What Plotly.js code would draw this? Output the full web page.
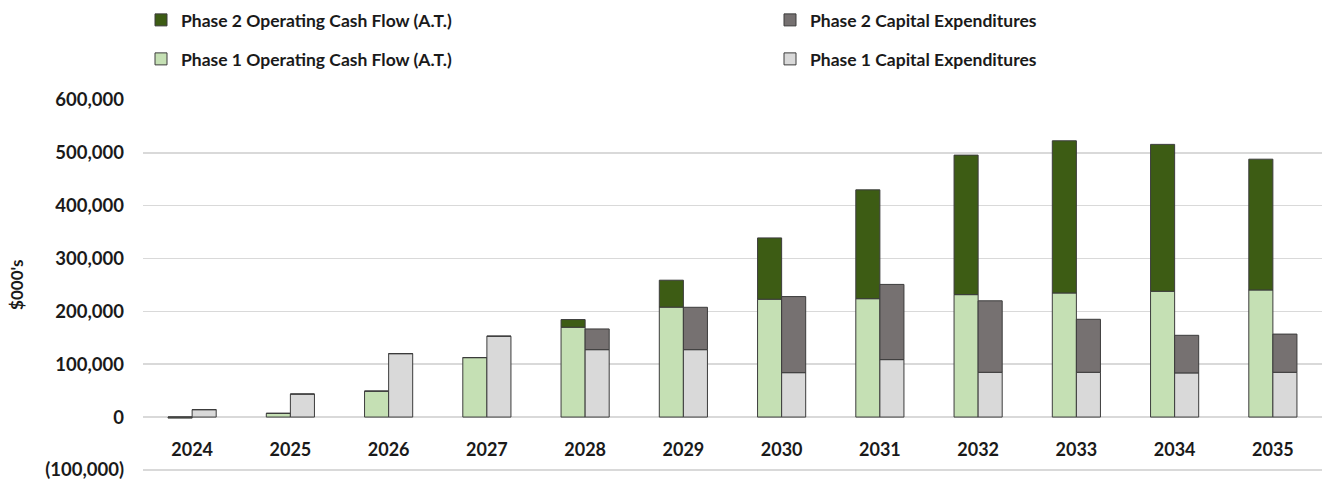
<!DOCTYPE html>
<html>
<head>
<meta charset="utf-8">
<script src="https://cdn.plot.ly/plotly-3.0.1.min.js"></script>
<style>html,body{margin:0;padding:0;background:#fff;}#chart{width:1322px;height:479px;}</style>
</head>
<body>
<div id="chart"></div>
<script>
const years = ['2024','2025','2026','2027','2028','2029','2030','2031','2032','2033','2034','2035'];
const phase1OCF   = [-2000, 7000, 49000, 112500, 170000, 208000, 223000, 224000, 231700, 234800, 238000, 240500];
const phase2OCF   = [0, 0, 0, 0, 14500, 51000, 116000, 206000, 264000, 288000, 278000, 247500];
const phase1CapEx = [14000, 43500, 120000, 153000, 127500, 127500, 84000, 108700, 84700, 84700, 83500, 84700];
const phase2CapEx = [0, 0, 0, 0, 39200, 80200, 144000, 142300, 135300, 100300, 71200, 72300];
const yTickVals = [-100000, 0, 100000, 200000, 300000, 400000, 500000, 600000];
const yTickText = ['(100,000)', '0', '100,000', '200,000', '300,000', '400,000', '500,000', '600,000'];
const yTitle = "$000's";

const FONT = 'Lato, "Open Sans", "DejaVu Sans", sans-serif';
const edge = {color: '#3c3c3c', width: 1};

const traces = [
  {type: 'bar', name: 'Phase 1 Operating Cash Flow (A.T.)', x: years, y: phase1OCF,
   offsetgroup: 'ocf', marker: {color: '#c5e0b4', line: edge}, legend: 'legend2'},
  {type: 'bar', name: 'Phase 2 Operating Cash Flow (A.T.)', x: years, y: phase2OCF, base: phase1OCF.map(v => Math.max(v, 0)),
   offsetgroup: 'ocf', marker: {color: '#3d5c14', line: edge}, legend: 'legend'},
  {type: 'bar', name: 'Phase 1 Capital Expenditures', x: years, y: phase1CapEx,
   offsetgroup: 'capex', marker: {color: '#d9d9d9', line: edge}, legend: 'legend4'},
  {type: 'bar', name: 'Phase 2 Capital Expenditures', x: years, y: phase2CapEx, base: phase1CapEx,
   offsetgroup: 'capex', marker: {color: '#767171', line: edge}, legend: 'legend3'}
];

function leg(px, py) {
  return {x: px / 1322, y: 1 - py / 479, xref: 'container', yref: 'container',
          xanchor: 'left', yanchor: 'middle', orientation: 'v', itemwidth: 30,
          bgcolor: 'rgba(0,0,0,0)',
          font: {family: FONT, size: 17.5, color: '#1a1a1a', weight: 'bold'}};
}

const yMin = -104000, yMax = 600000;

const layout = {
  width: 1322, height: 479,
  margin: {l: 143, r: 0, t: 100, b: 7, autoexpand: false},
  paper_bgcolor: '#ffffff', plot_bgcolor: '#ffffff',
  barmode: 'group', bargap: 0.51, bargroupgap: 0,
  showlegend: true,
  legend: leg(141, 20),
  legend2: leg(141, 59),
  legend3: leg(770, 20),
  legend4: leg(770, 59),
  xaxis: {type: 'category', anchor: 'free', position: (0 - yMin) / (yMax - yMin), automargin: false,
          showgrid: false, showline: false, zeroline: false, ticks: '',
          ticklabelstandoff: 20,
          tickfont: {family: FONT, size: 18, color: '#1a1a1a', weight: 'bold'}},
  yaxis: {range: [yMin, yMax], domain: [0, 1], tickvals: yTickVals, ticktext: yTickText, automargin: false,
          showgrid: true, gridcolor: '#d9d9d9', gridwidth: 1.5,
          zeroline: true, zerolinecolor: '#d9d9d9', zerolinewidth: 1.5,
          showline: false, ticks: '', ticklabelstandoff: 18, ticklabeloverflow: 'allow',
          tickfont: {family: FONT, size: 18.5, color: '#1a1a1a', weight: 'bold'}},
  annotations: [{text: yTitle, xref: 'paper', yref: 'paper', x: -126 / 1179, y: (100000 - yMin + 150000) / (yMax - yMin),
                 xanchor: 'center', yanchor: 'middle', textangle: -90, showarrow: false,
                 font: {family: FONT, size: 17, color: '#1a1a1a', weight: 'bold'}}]
};

Plotly.newPlot('chart', traces, layout, {displayModeBar: false, staticPlot: true});
</script>
</body>
</html>
